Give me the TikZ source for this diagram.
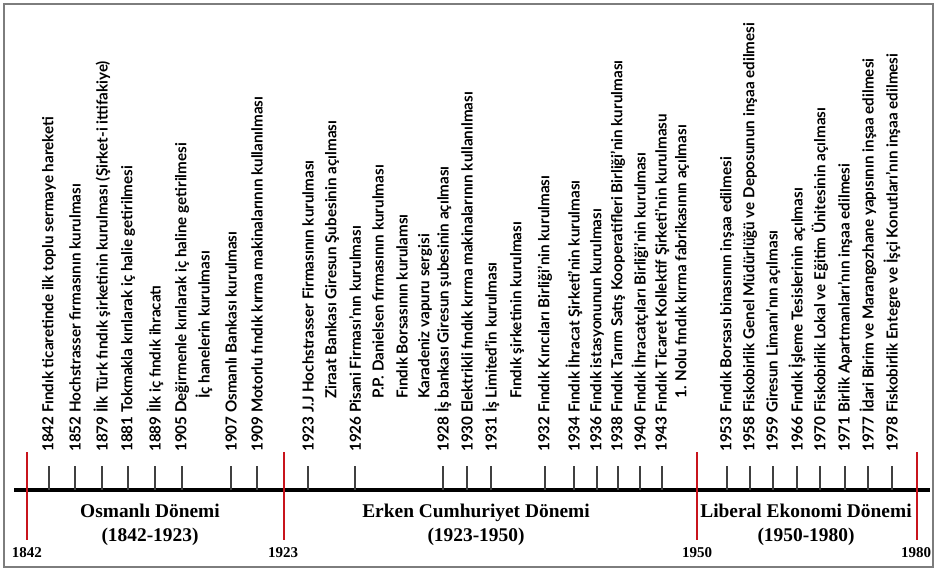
\documentclass[tikz,border=0pt]{standalone}
\usepackage{fontspec}
\setmainfont{Liberation Serif}
\newfontfamily\lblfont{Lato}
\definecolor{eraRed}{RGB}{200,20,28}
\definecolor{frameGray}{RGB}{125,125,125}
\tikzset{
	event/.style={rotate=90,anchor=west,inner sep=0pt,font=\lblfont\bfseries\fontsize{15.2}{16}\selectfont},
	tick/.style={line width=1.3pt,black!75},
	era/.style={line width=2.6pt,eraRed},
	eraname/.style={align=center,font=\bfseries\fontsize{19.4}{24}\selectfont},
	erayear/.style={font=\bfseries\fontsize{15}{18}\selectfont}
}
\begin{document}
\begin{tikzpicture}[x=1pt,y=-1pt]
				\useasboundingbox (0,0) rectangle (937,570);
				\draw[frameGray,line width=1.2pt] (4,4) rectangle (933,567);
				% zaman ekseni
				\coordinate (axL) at (14,490);
				\coordinate (axR) at (930,490);
				\draw[line width=4pt] (axL) -- (axR);
				% olaylar
				\node[event] (y1842) at (49,452) {1842 Fındık ticaretinde ilk toplu sermaye hareketi};
				\node[event] (y1852) at (75,452) {1852 Hochstrasser firmasının kurulması};
				\node[event] (y1879) at (102,452) {1879 İlk Türk fındık şirketinin kurulması (Şirket-i ittifakiye)};
				\node[event] (y1881) at (128,452) {1881 Tokmakla kırılarak iç halie getirilmesi};
				\node[event] (y1889) at (155,452) {1889 İlk iç fındık ihracatı};
				\node[event] (y1905) at (182,452) {1905 Değirmenle kırılarak iç haline getirilmesi};
				\node[event] (c1905) at (204,399) {İç hanelerin kurulması};
				\node[event] (y1907) at (231,452) {1907 Osmanlı Bankası kurulması};
				\node[event] (y1909) at (257,452) {1909 Motorlu fındık kırma makinalarının kullanılması};
				\node[event] (y1923) at (308,452) {1923 J.J Hochstrasser Firmasının kurulması};
				\node[event] (c1923) at (332,399) {Ziraat Bankası Giresun Şubesinin açılması};
				\node[event] (y1926) at (355,452) {1926 Pisani Firması’nın kurulması};
				\node[event] (c1926a) at (378,399) {P.P. Danielsen firmasının kurulması};
				\node[event] (c1926b) at (402,399) {Fındık Borsasının kurulamsı};
				\node[event] (c1926c) at (425,399) {Karadeniz vapuru sergisi};
				\node[event] (y1928) at (443,452) {1928 İş bankası Giresun şubesinin açılması};
				\node[event] (y1930) at (467,452) {1930 Elektrikli fındık kırma makinalarının kullanılması};
				\node[event] (y1931) at (491,452) {1931 İş Limited’in kurulması};
				\node[event] (c1931) at (517,399) {Fındık şirketinin kurulması};
				\node[event] (y1932) at (545,452) {1932 Fındık Kırıcıları Birliği’nin kurulması};
				\node[event] (y1934) at (574,452) {1934 Fındık İhracat Şirketi’nin kurulması};
				\node[event] (y1936) at (597,452) {1936 Fındık istasyonunun kurulması};
				\node[event] (y1938) at (618,452) {1938 Fındık Tarım Satış Kooperatifleri Birliği’nin kurulması};
				\node[event] (y1940) at (640,452) {1940 Fındık İhracatçıları Birliği’nin kurulması};
				\node[event] (y1943) at (662,452) {1943 Fındık Ticaret Kollektif Şirketi’nin kurulmasu};
				\node[event] (c1943) at (682,399) {1. Nolu fındık kırma fabrikasının açılması};
				\node[event] (y1953) at (727,452) {1953 Fındık Borsası binasının inşaa edilmesi};
				\node[event] (y1958) at (750,452) {1958 Fiskobirlik Genel Müdürlüğü ve Deposunun inşaa edilmesi};
				\node[event] (y1959) at (773,452) {1959 Giresun Limanı’nın açılması};
				\node[event] (y1966) at (797,452) {1966 Fındık İşleme Tesislerinin açılması};
				\node[event] (y1970) at (820,452) {1970 Fiskobirlik Lokal ve Eğitim Ünitesinin açılması};
				\node[event] (y1971) at (845,452) {1971 Birlik Apartmanları’nın inşaa edilmesi};
				\node[event] (y1977) at (868,452) {1977 İdari Birim ve Marangozhane yapısının inşaa edilmesi};
				\node[event] (y1978) at (892,452) {1978 Fiskobirlik Entegre ve İşçi Konutları’nın inşaa edilmesi};
				% çentikler
				\draw[tick] ([yshift=-14pt]y1842.west) -- (y1842.west |- axL);
				\draw[tick] ([yshift=-14pt]y1852.west) -- (y1852.west |- axL);
				\draw[tick] ([yshift=-14pt]y1879.west) -- (y1879.west |- axL);
				\draw[tick] ([yshift=-14pt]y1881.west) -- (y1881.west |- axL);
				\draw[tick] ([yshift=-14pt]y1889.west) -- (y1889.west |- axL);
				\draw[tick] ([yshift=-14pt]y1905.west) -- (y1905.west |- axL);
				\draw[tick] ([yshift=-14pt]y1907.west) -- (y1907.west |- axL);
				\draw[tick] ([yshift=-14pt]y1909.west) -- (y1909.west |- axL);
				\draw[tick] ([yshift=-14pt]y1923.west) -- (y1923.west |- axL);
				\draw[tick] ([yshift=-14pt]y1926.west) -- (y1926.west |- axL);
				\draw[tick] ([yshift=-14pt]y1928.west) -- (y1928.west |- axL);
				\draw[tick] ([yshift=-14pt]y1930.west) -- (y1930.west |- axL);
				\draw[tick] ([yshift=-14pt]y1931.west) -- (y1931.west |- axL);
				\draw[tick] ([yshift=-14pt]y1932.west) -- (y1932.west |- axL);
				\draw[tick] ([yshift=-14pt]y1934.west) -- (y1934.west |- axL);
				\draw[tick] ([yshift=-14pt]y1936.west) -- (y1936.west |- axL);
				\draw[tick] ([yshift=-14pt]y1938.west) -- (y1938.west |- axL);
				\draw[tick] ([yshift=-14pt]y1940.west) -- (y1940.west |- axL);
				\draw[tick] ([yshift=-14pt]y1943.west) -- (y1943.west |- axL);
				\draw[tick] ([yshift=-14pt]y1953.west) -- (y1953.west |- axL);
				\draw[tick] ([yshift=-14pt]y1958.west) -- (y1958.west |- axL);
				\draw[tick] ([yshift=-14pt]y1959.west) -- (y1959.west |- axL);
				\draw[tick] ([yshift=-14pt]y1966.west) -- (y1966.west |- axL);
				\draw[tick] ([yshift=-14pt]y1970.west) -- (y1970.west |- axL);
				\draw[tick] ([yshift=-14pt]y1971.west) -- (y1971.west |- axL);
				\draw[tick] ([yshift=-14pt]y1977.west) -- (y1977.west |- axL);
				\draw[tick] ([yshift=-14pt]y1978.west) -- (y1978.west |- axL);
				% dönem sınırları
				\coordinate (s1842) at (27,452); \coordinate (e1842) at (27,540);
				\coordinate (s1923) at (284,452); \coordinate (e1923) at (284,540);
				\coordinate (s1950) at (697,452); \coordinate (e1950) at (697,540);
				\coordinate (s1980) at (917,452); \coordinate (e1980) at (917,540);
				\draw[era] (s1842) -- (e1842);
				\draw[era] (s1923) -- (e1923);
				\draw[era] (s1950) -- (e1950);
				\draw[era] (s1980) -- (e1980);
				\node[erayear] (n1842) at (27,553) {1842};
				\node[erayear] (n1923) at (283,553) {1923};
				\node[erayear] (n1950) at (697,553) {1950};
				\node[erayear] (n1980) at (916,553) {1980};
				% dönem adları
				\node[eraname] (osmanli) at (150,525) {Osmanlı Dönemi\\(1842-1923)};
				\node[eraname] (erken) at (476,525) {Erken Cumhuriyet Dönemi\\(1923-1950)};
				\node[eraname] (liberal) at (806,525) {Liberal Ekonomi Dönemi\\(1950-1980)};
			\end{tikzpicture}
\end{document}
